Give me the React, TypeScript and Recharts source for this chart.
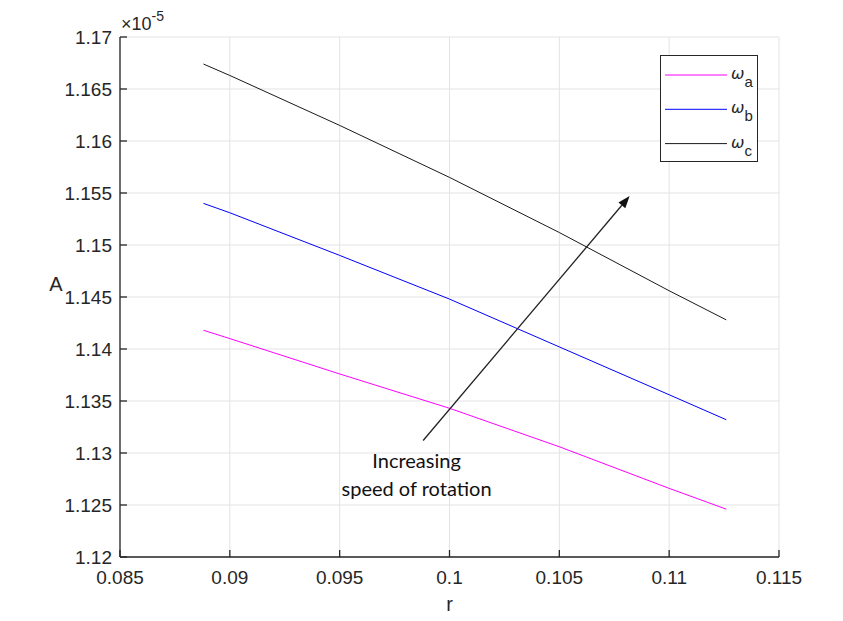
import React from "react"
import {
  LineChart,
  Line,
  XAxis,
  YAxis,
  CartesianGrid,
  ReferenceLine,
  ReferenceDot,
} from "recharts"

// r values and A (in units of 1e-5) for each rotation speed
const rValues = [0.0888, 0.09, 0.095, 0.1, 0.105, 0.11, 0.1126]
const omegaA = [1.1418, 1.141, 1.1376, 1.1343, 1.1306, 1.1266, 1.1246]
const omegaB = [1.154, 1.1531, 1.149, 1.1448, 1.1402, 1.1356, 1.1332]
const omegaC = [1.1674, 1.1663, 1.1615, 1.1565, 1.1512, 1.1456, 1.1428]

const xTicks = [0.085, 0.09, 0.095, 0.1, 0.105, 0.11, 0.115]
const yTicks = [1.12, 1.125, 1.13, 1.135, 1.14, 1.145, 1.15, 1.155, 1.16, 1.165, 1.17]

const seriesNames = ["a", "b", "c"]
const seriesColors = ["#ff00ff", "#0000ff", "#1a1a1a"]

// arrow annotation (data coordinates)
const arrowFrom = { x: 0.0988, y: 1.1312 }
const arrowTo = { x: 0.1082, y: 1.1547 }
const noteAt = { x: 0.0985, y: 1.1286 }
const noteLines = ["Increasing", "speed of rotation"]

const data = rValues.map((r, i) => ({
  r,
  a: omegaA[i],
  b: omegaB[i],
  c: omegaC[i],
}))

const axisColor = "#262626"
const gridColor = "#e3e3e3"
const sans = "'Liberation Sans', Arial, Helvetica, sans-serif"
const tickFont = { fontSize: 19, fill: axisColor, fontFamily: sans }

const Arrow = (props: any) => {
  const { x1, y1, x2, y2 } = props
  const ang = Math.atan2(y2 - y1, x2 - x1)
  const len = 12
  const w = 4.5
  const bx = x2 - len * Math.cos(ang)
  const by = y2 - len * Math.sin(ang)
  const px = -Math.sin(ang) * w
  const py = Math.cos(ang) * w
  return (
    <g>
      <line x1={x1} y1={y1} x2={bx} y2={by} stroke="#222" strokeWidth={1.3} />
      <polygon
        points={`${x2},${y2} ${bx + px},${by + py} ${bx - px},${by - py}`}
        fill="#111"
      />
    </g>
  )
}

const Note = (props: any) => {
  const { cx, cy } = props
  return (
    <text
      x={cx}
      y={cy}
      textAnchor="middle"
      fontFamily="Lato, 'Open Sans', sans-serif"
      fontSize={20}
      fill="#111"
    >
      {noteLines.map((t, i) => (
        <tspan key={t} x={cx} dy={i === 0 ? 0 : 28}>
          {t}
        </tspan>
      ))}
    </text>
  )
}

const Exponent = (props: any) => {
  const { cx, cy } = props
  return (
    <text x={cx + 1} y={cy - 7} fontFamily={sans} fill={axisColor}>
      <tspan fontSize={18}>×10</tspan>
      <tspan fontSize={14} dy={-9}>-5</tspan>
    </text>
  )
}

const LegendBox = () => (
  <div
    style={{
      position: "absolute",
      left: 660,
      top: 55,
      width: 96,
      height: 105,
      border: `1.5px solid ${axisColor}`,
      background: "#fff",
    }}
  >
    <svg width={96} height={105} style={{ display: "block" }}>
      {seriesNames.map((n, i) => {
        const y = 19 + i * 34.3
        return (
          <g key={n}>
            <line x1={4} x2={66} y1={y} y2={y} stroke={seriesColors[i]} strokeWidth={1} />
            <text
              x={70}
              y={y + 4}
              fontFamily="'DejaVu Sans', sans-serif"
              fontStyle="italic"
              fontSize={16}
              fill={axisColor}
            >
              ω
              <tspan fontStyle="normal" fontSize={15} dy={8} fontFamily={sans}>
                {n}
              </tspan>
            </text>
          </g>
        )
      })}
    </svg>
  </div>
)

export default function App() {
  return (
    <div style={{ position: "absolute", left: 0, top: 0, width: 843, height: 621, background: "#fff" }}>
      <style>{`body{margin:0}`}</style>
      <LineChart
        width={843}
        height={621}
        data={data}
        margin={{ top: 37, right: 64, bottom: 0, left: 0 }}
        style={{ fontFamily: sans }}
      >
        <CartesianGrid stroke={gridColor} strokeWidth={1} />
        <XAxis
          dataKey="r"
          type="number"
          domain={[0.085, 0.115]}
          ticks={xTicks}
          tickFormatter={(v: number) => String(v)}
          height={64}
          tickSize={-7}
          tickMargin={21}
          stroke={axisColor}
          strokeWidth={1.3}
          tick={tickFont}
          allowDataOverflow
          label={{
            value: "r",
            position: "insideBottom",
            offset: 10,
            fontSize: 20,
            fill: axisColor,
            fontFamily: sans,
          }}
        />
        <YAxis
          type="number"
          domain={[1.12, 1.17]}
          ticks={yTicks}
          tickFormatter={(v: number) => String(v)}
          width={120}
          tickSize={-7}
          tickMargin={15}
          stroke={axisColor}
          strokeWidth={1.3}
          tick={tickFont}
          allowDataOverflow
          label={{
            value: "A",
            content: (p: any) => (
              <text
                x={p.viewBox.x + 56}
                y={p.viewBox.y + p.viewBox.height / 2 - 6}
                textAnchor="middle"
                fontSize={20}
                fill={axisColor}
                fontFamily={sans}
              >
                A
              </text>
            ),
          }}
        />
        {seriesNames.map((n, i) => (
          <Line
            key={n}
            dataKey={n}
            type="linear"
            stroke={seriesColors[i]}
            strokeWidth={1}
            dot={false}
            activeDot={false}
            isAnimationActive={false}
          />
        ))}
        <ReferenceLine
          segment={[arrowFrom, arrowTo]}
          ifOverflow="visible"
          shape={Arrow}
        />
        <ReferenceDot x={noteAt.x} y={noteAt.y} r={0} ifOverflow="visible" shape={Note} />
        <ReferenceDot x={0.085} y={1.17} r={0} ifOverflow="visible" shape={Exponent} />
      </LineChart>
      <LegendBox />
    </div>
  )
}
